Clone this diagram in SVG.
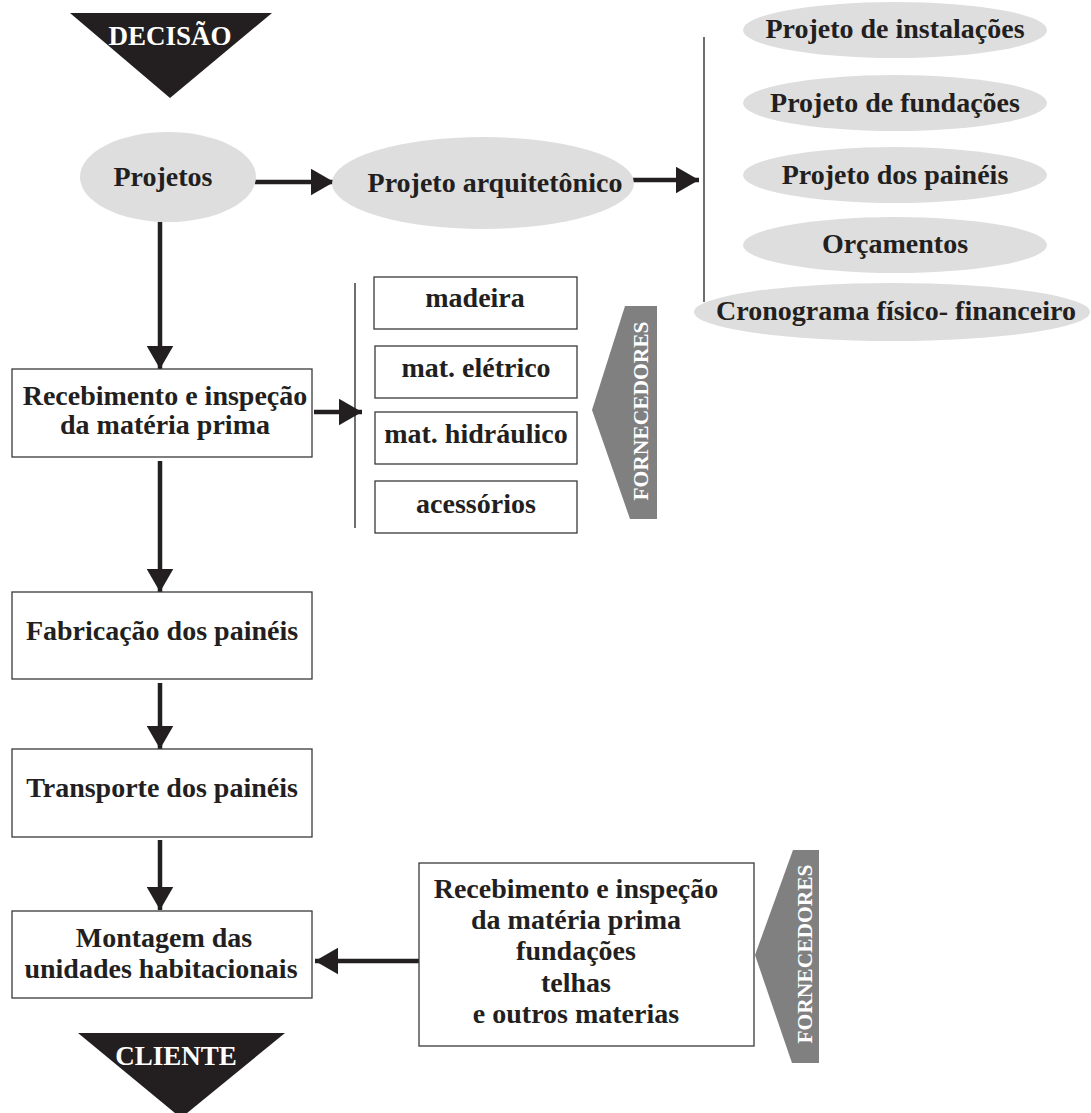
<svg xmlns="http://www.w3.org/2000/svg" width="1091" height="1113" viewBox="0 0 1091 1113">
<defs>
<style>
.t{font-family:"Liberation Serif","Times New Roman",serif;font-weight:bold;font-size:28px;fill:#231f20;text-anchor:middle}
.w{font-family:"Liberation Serif","Times New Roman",serif;font-weight:bold;font-size:27px;fill:#ffffff;text-anchor:middle}
.f{font-family:"Liberation Serif","Times New Roman",serif;font-weight:bold;font-size:21.5px;fill:#ffffff;text-anchor:middle}
.box{fill:#ffffff;stroke:#3a3a3a;stroke-width:1.3}
.ell{fill:#dedede;stroke:none}
.ln{stroke:#231f20;stroke-width:4.5;fill:none}
.thin{stroke:#231f20;stroke-width:1.3;fill:none}
.tri{fill:#231f20}
.gr{fill:#808080}
</style>
<marker id="ah" markerWidth="6" markerHeight="6" refX="5.2" refY="3" orient="auto" markerUnits="strokeWidth" viewBox="0 0 6 6">
<path d="M0,0 L5.2,3 L0,6 Z" fill="#231f20"/>
</marker>
</defs>
<rect width="1091" height="1113" fill="#ffffff"/>

<g id="connectors">
<line class="ln" x1="255" y1="182" x2="334" y2="182" marker-end="url(#ah)"/>
<line class="ln" x1="632" y1="180" x2="699" y2="180" marker-end="url(#ah)"/>
<line class="thin" x1="704" y1="37" x2="704" y2="302"/>
<line class="ln" x1="160" y1="222" x2="160" y2="369" marker-end="url(#ah)"/>
<line class="ln" x1="314" y1="412" x2="362" y2="412" marker-end="url(#ah)"/>
<line class="thin" x1="355" y1="283" x2="355" y2="528"/>
<line class="ln" x1="160" y1="461" x2="160" y2="592" marker-end="url(#ah)"/>
<line class="ln" x1="160" y1="683" x2="160" y2="749" marker-end="url(#ah)"/>
<line class="ln" x1="160" y1="840" x2="160" y2="910" marker-end="url(#ah)"/>
<line class="ln" x1="419" y1="961" x2="315" y2="961" marker-end="url(#ah)"/>
</g>

<g id="decisao">
<polygon class="tri" points="70,13 272,13 170,98"/>
<text class="w" x="170" y="45">DECISÃO</text>
</g>

<g id="projetos">
<ellipse class="ell" cx="168" cy="177" rx="88" ry="45"/>
<text class="t" x="163" y="186">Projetos</text>
</g>

<g id="projeto-arquitetonico">
<ellipse class="ell" cx="483" cy="183" rx="151" ry="46"/>
<text class="t" x="495" y="192">Projeto arquitetônico</text>
</g>

<g id="projeto-instalacoes">
<ellipse class="ell" cx="895" cy="30" rx="152" ry="28"/>
<text class="t" x="895" y="38">Projeto de instalações</text>
</g>
<g id="projeto-fundacoes">
<ellipse class="ell" cx="895" cy="103" rx="152" ry="28"/>
<text class="t" x="895" y="112">Projeto de fundações</text>
</g>
<g id="projeto-paineis">
<ellipse class="ell" cx="895" cy="175" rx="152" ry="28"/>
<text class="t" x="895" y="184">Projeto dos painéis</text>
</g>
<g id="orcamentos">
<ellipse class="ell" cx="895" cy="245" rx="152" ry="28"/>
<text class="t" x="895" y="253">Orçamentos</text>
</g>
<g id="cronograma">
<ellipse class="ell" cx="892" cy="312" rx="198" ry="29"/>
<text class="t" x="896" y="320">Cronograma físico- financeiro</text>
</g>

<g id="recebimento">
<rect class="box" x="12" y="369" width="300" height="88"/>
<text class="t" x="165" y="405">Recebimento e inspeção</text>
<text class="t" x="165" y="434">da matéria prima</text>
</g>

<g id="madeira">
<rect class="box" x="374" y="277" width="203" height="52"/>
<text class="t" x="475" y="307">madeira</text>
</g>
<g id="mat-eletrico">
<rect class="box" x="375" y="346" width="202" height="52"/>
<text class="t" x="476" y="377">mat. elétrico</text>
</g>
<g id="mat-hidraulico">
<rect class="box" x="375" y="412" width="202" height="52"/>
<text class="t" x="476" y="443">mat. hidráulico</text>
</g>
<g id="acessorios">
<rect class="box" x="375" y="481" width="202" height="52"/>
<text class="t" x="476" y="513">acessórios</text>
</g>

<g id="fornecedores-1">
<polygon class="gr" points="625,306 657,306 657,519 630,519 592,410"/>
<text class="f" x="648" y="411" transform="rotate(-90 648 411)">FORNECEDORES</text>
</g>

<g id="fabricacao">
<rect class="box" x="12" y="592" width="300" height="87"/>
<text class="t" x="162" y="640">Fabricação dos painéis</text>
</g>

<g id="transporte">
<rect class="box" x="12" y="749" width="300" height="88"/>
<text class="t" x="162" y="797">Transporte dos painéis</text>
</g>

<g id="montagem">
<rect class="box" x="12" y="911" width="300" height="87"/>
<text class="t" x="164" y="947">Montagem das</text>
<text class="t" x="161" y="978">unidades habitacionais</text>
</g>

<g id="recebimento-2">
<rect class="box" x="419" y="863" width="335" height="183"/>
<text class="t" x="576" y="898">Recebimento e inspeção</text>
<text class="t" x="576" y="929">da matéria prima</text>
<text class="t" x="576" y="960">fundações</text>
<text class="t" x="576" y="992">telhas</text>
<text class="t" x="576" y="1023">e outros materias</text>
</g>

<g id="fornecedores-2">
<polygon class="gr" points="793,850 819,850 819,1063 792,1063 755,955"/>
<text class="f" x="812" y="954" transform="rotate(-90 812 954)">FORNECEDORES</text>
</g>

<g id="cliente">
<polygon class="tri" points="78,1033 285,1033 181,1118"/>
<text class="w" x="176" y="1065">CLIENTE</text>
</g>
</svg>
